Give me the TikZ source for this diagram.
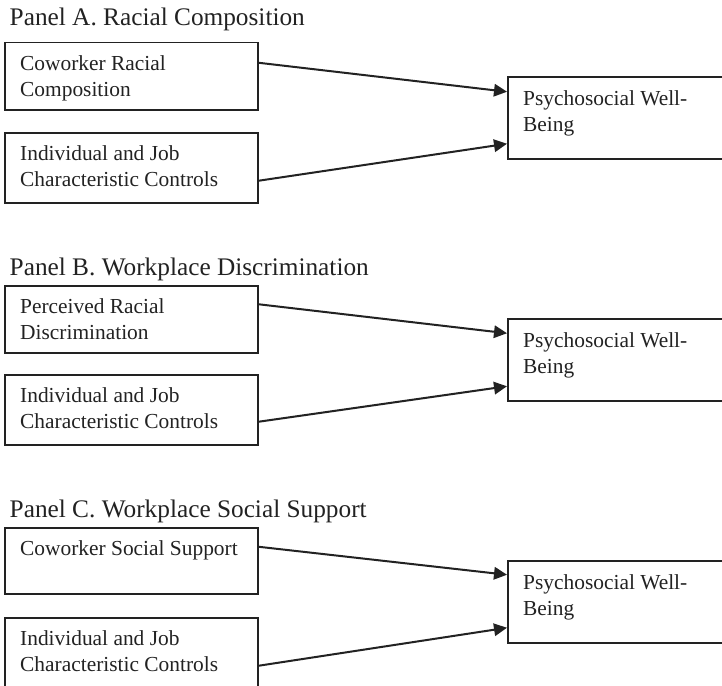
\documentclass[tikz,border=0pt]{standalone}
\usepackage{fontspec}
\setmainfont{Liberation Serif}
\usetikzlibrary{arrows.meta}
\definecolor{ink}{HTML}{222222}
\tikzset{
  lbox/.style={draw=ink, line width=1.5pt, rectangle, anchor=north west, inner sep=0pt, minimum width=253pt},
  rbox/.style={draw=ink, line width=1.5pt, rectangle, anchor=north west, inner sep=0pt, minimum width=223pt, minimum height=82pt},
  txt/.style={anchor=north west, inner sep=0pt, align=left, text=ink, font=\fontsize{21.4}{25.5}\selectfont},
  ptitle/.style={anchor=base west, inner sep=0pt, text=ink, font=\fontsize{25.3}{30}\selectfont},
  arr/.style={draw=ink, line width=2pt, -{Triangle[length=13pt,width=12.5pt]}}
}
\begin{document}
\begin{tikzpicture}[x=1pt,y=-1pt]
\useasboundingbox (0,0) rectangle (722,685);
% Panel A
\node[ptitle] (ta) at (9.5,26) {Panel A. Racial Composition};
\node[lbox, minimum height=67pt] (a1) at (4,42) {};
\node[lbox, minimum height=70pt] (a2) at (4,132) {};
\node[rbox] (ar) at (507,76) {};
\node[txt] (a1t) at ([shift={(16pt,-13.5pt)}]a1.north west) {Coworker Racial\\Composition};
\node[txt] (a2t) at ([shift={(16pt,-13.5pt)}]a2.north west) {Individual and Job\\Characteristic Controls};
\node[txt] (art) at ([shift={(16pt,-14.5pt)}]ar.north west) {Psychosocial Well-\\Being};
\draw[arr] ([yshift=13.5pt]a1.east) -- ([yshift=26pt]ar.west);
\draw[arr] ([yshift=-13pt]a2.east) -- ([yshift=-26pt]ar.west);
% Panel B
\node[ptitle] (tb) at (9.5,275) {Panel B. Workplace Discrimination};
\node[lbox, minimum height=67pt] (b1) at (4,285) {};
\node[lbox, minimum height=70pt] (b2) at (4,374) {};
\node[rbox] (br) at (507,318) {};
\node[txt] (b1t) at ([shift={(16pt,-13.5pt)}]b1.north west) {Perceived Racial\\Discrimination};
\node[txt] (b2t) at ([shift={(16pt,-13.5pt)}]b2.north west) {Individual and Job\\Characteristic Controls};
\node[txt] (brt) at ([shift={(16pt,-14.5pt)}]br.north west) {Psychosocial Well-\\Being};
\draw[arr] ([yshift=15pt]b1.east) -- ([yshift=26.5pt]br.west);
\draw[arr] ([yshift=-12pt]b2.east) -- ([yshift=-26.5pt]br.west);
% Panel C
\node[ptitle] (tc) at (9.5,517) {Panel C. Workplace Social Support};
\node[lbox, minimum height=66pt] (c1) at (4,527) {};
\node[lbox, minimum height=70pt] (c2) at (4,617) {};
\node[rbox] (cr) at (507,560) {};
\node[txt] (c1t) at ([shift={(16pt,-13.5pt)}]c1.north west) {Coworker Social Support};
\node[txt] (c2t) at ([shift={(16pt,-13.5pt)}]c2.north west) {Individual and Job\\Characteristic Controls};
\node[txt] (crt) at ([shift={(16pt,-14.5pt)}]cr.north west) {Psychosocial Well-\\Being};
\draw[arr] ([yshift=14pt]c1.east) -- ([yshift=27pt]cr.west);
\draw[arr] ([yshift=-13pt]c2.east) -- ([yshift=-26pt]cr.west);
\end{tikzpicture}
\end{document}
